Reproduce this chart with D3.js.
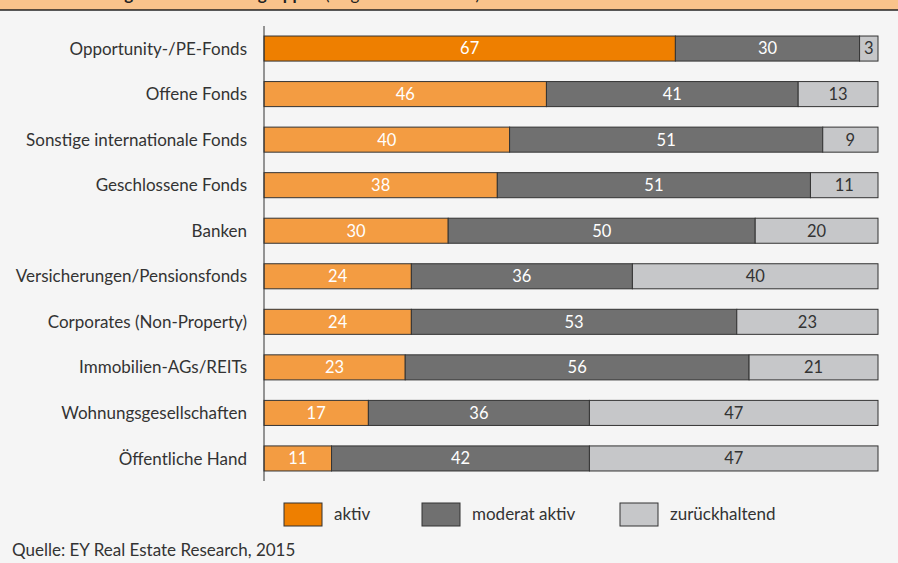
<!DOCTYPE html>
<html>
<head>
<meta charset="utf-8">
<script src="https://cdn.jsdelivr.net/npm/d3@7"></script>
<style>
  body { margin: 0; background: #f5f5f5; }
  svg { display: block; }
  text { font-family: Lato, "Open Sans", sans-serif; }
</style>
</head>
<body>
<svg id="chart" width="898" height="563"></svg>
<script>
// Anteile in Prozent, je Investorengruppe
var categories = ['Opportunity-/PE-Fonds', 'Offene Fonds', 'Sonstige internationale Fonds',
  'Geschlossene Fonds', 'Banken', 'Versicherungen/Pensionsfonds', 'Corporates (Non-Property)',
  'Immobilien-AGs/REITs', 'Wohnungsgesellschaften', 'Öffentliche Hand']
var aktiv = [67, 46, 40, 38, 30, 24, 24, 23, 17, 11]
var moderat = [30, 41, 51, 51, 50, 36, 53, 56, 36, 42]
var zurueck = [3, 13, 9, 11, 20, 40, 23, 21, 47, 47]
var seriesNames = ['aktiv', 'moderat aktiv', 'zurückhaltend']

var svg = d3.select('#chart')

// title bar (cut off at the top of the picture)
svg.append('rect')
  .attr('x', 0).attr('y', 0)
  .attr('width', 898).attr('height', 10)
  .attr('fill', '#f9c38b')
svg.append('text')
  .attr('x', 12).attr('y', 0)
  .attr('font-size', 17).attr('font-weight', 'bold')
  .attr('fill', '#222')
  .text('Marktstimmung nach Investorengruppen')
  .append('tspan').attr('font-weight', 'normal').text(' (Angaben in Prozent)')
svg.append('line')
  .attr('x1', 0).attr('x2', 898)
  .attr('y1', 10).attr('y2', 10)
  .attr('stroke', '#222').attr('stroke-width', 1.6)

var x = d3.scaleLinear().domain([0, 100]).range([264, 878])
var y = d3.scaleBand().domain(categories).range([26, 481])
  .paddingInner(0.45).paddingOuter(0.22)

var rows = categories.map(function(c, i) {
  return {cat: c, aktiv: aktiv[i], moderat: moderat[i], zurueck: zurueck[i]}
})
var stack = d3.stack().keys(['aktiv', 'moderat', 'zurueck'])(rows)

var fills = {aktiv: '#f39c42', moderat: '#707070', zurueck: '#c6c7c9'}
var textFills = {aktiv: '#ffffff', moderat: '#ffffff', zurueck: '#333333'}

var layers = svg.selectAll('g.layer')
  .data(stack)
  .enter().append('g')
  .attr('class', 'layer')

layers.selectAll('rect')
  .data(function(d) { return d.map(function(v) { return {key: d.key, v: v} }) })
  .enter().append('rect')
  .attr('x', function(d) { return x(d.v[0]) })
  .attr('y', function(d) { return y(d.v.data.cat) })
  .attr('width', function(d) { return x(d.v[1]) - x(d.v[0]) })
  .attr('height', y.bandwidth())
  .attr('fill', function(d, i) {
    // erste Zeile hervorgehoben
    if (d.key == 'aktiv' && i == 0) return '#ee7f00'
    return fills[d.key]
  })
  .attr('stroke', '#333')
  .attr('stroke-width', 1)

layers.selectAll('text')
  .data(function(d) { return d.map(function(v) { return {key: d.key, v: v} }) })
  .enter().append('text')
  .attr('x', function(d) { return (x(d.v[0]) + x(d.v[1])) / 2 })
  .attr('y', function(d) { return y(d.v.data.cat) + y.bandwidth() / 2 })
  .attr('dy', '0.36em')
  .attr('text-anchor', 'middle')
  .attr('font-size', 16.5)
  .attr('fill', function(d) { return textFills[d.key] })
  .text(function(d) { return d.v[1] - d.v[0] })

// category axis
svg.append('line')
  .attr('x1', 264).attr('x2', 264)
  .attr('y1', 26).attr('y2', 481)
  .attr('stroke', '#333').attr('stroke-width', 1)

svg.selectAll('text.cat')
  .data(categories)
  .enter().append('text')
  .attr('class', 'cat')
  .attr('x', 247)
  .attr('y', function(d) { return y(d) + y.bandwidth() / 2 })
  .attr('dy', '0.36em')
  .attr('text-anchor', 'end')
  .attr('font-size', 17)
  .attr('fill', '#333')
  .text(function(d) { return d })

// legend
var legendX = [284, 422, 620]
var legendFills = ['#ee7f00', '#707070', '#c6c7c9']
var legend = svg.selectAll('g.legend')
  .data(seriesNames)
  .enter().append('g')
  .attr('class', 'legend')
  .attr('transform', function(d, i) { return 'translate(' + legendX[i] + ',503)' })
legend.append('rect')
  .attr('width', 38).attr('height', 23)
  .attr('fill', function(d, i) { return legendFills[i] })
  .attr('stroke', '#333').attr('stroke-width', 1)
legend.append('text')
  .attr('x', 50).attr('y', 17)
  .attr('font-size', 17)
  .attr('fill', '#333')
  .text(function(d) { return d })

svg.append('text')
  .attr('x', 12).attr('y', 556)
  .attr('font-size', 17)
  .attr('fill', '#333')
  .text('Quelle: EY Real Estate Research, 2015')
</script>
</body>
</html>
